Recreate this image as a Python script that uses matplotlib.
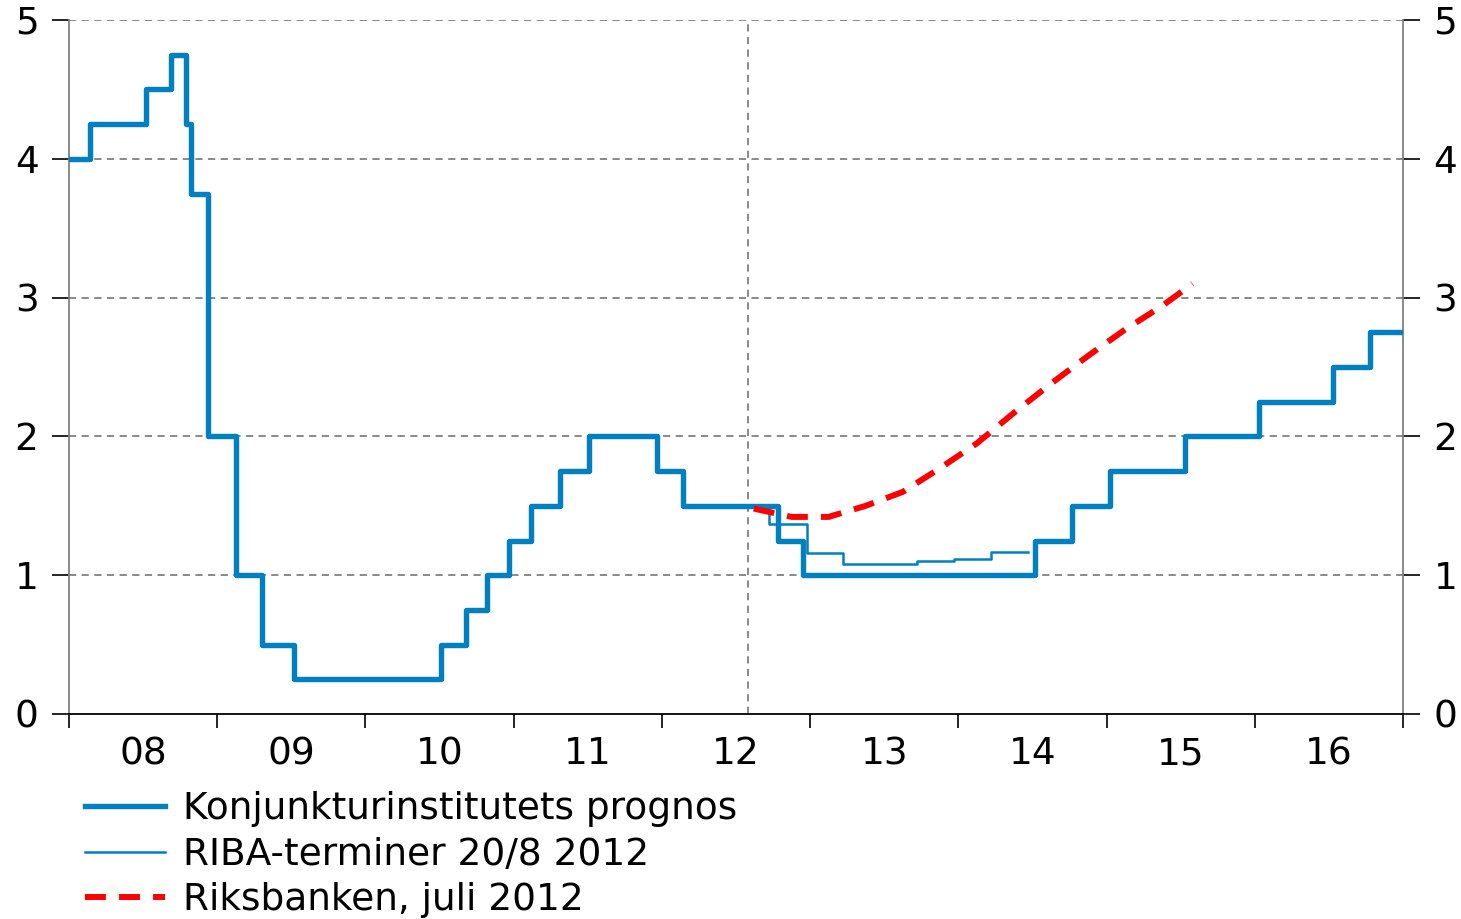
import matplotlib
matplotlib.use("Agg")
import matplotlib.pyplot as plt
import numpy as np

# Konjunkturinstitutets prognos (repo rate steps): change dates in years, levels
kon_x = [2008.0, 2008.14, 2008.52, 2008.69, 2008.79, 2008.82, 2008.94, 2009.13,
         2009.30, 2009.52, 2010.51, 2010.68, 2010.82, 2010.97, 2011.12, 2011.31,
         2011.51, 2011.97, 2012.14, 2012.78, 2012.95, 2014.52, 2014.77, 2015.02,
         2015.53, 2016.03, 2016.53, 2016.78, 2017.0]
kon_y = [4.0, 4.25, 4.5, 4.75, 4.25, 3.75, 2.0, 1.0,
         0.5, 0.25, 0.5, 0.75, 1.0, 1.25, 1.5, 1.75,
         2.0, 1.75, 1.5, 1.25, 1.0, 1.25, 1.5, 1.75,
         2.0, 2.25, 2.5, 2.75, 2.75]

# RIBA-terminer 20/8 2012
riba_x = [2012.58, 2012.72, 2012.98, 2013.22, 2013.72, 2013.97, 2014.22, 2014.47]
riba_y = [1.5, 1.37, 1.16, 1.08, 1.10, 1.12, 1.17, 1.17]

# Riksbanken, juli 2012
riks_x = [2012.62, 2012.875, 2013.125, 2013.375, 2013.625, 2013.875, 2014.125,
          2014.375, 2014.625, 2014.875, 2015.125, 2015.375, 2015.58]
riks_y = [1.48, 1.42, 1.42, 1.50, 1.60, 1.77, 1.95, 2.17, 2.38, 2.58, 2.77, 2.94, 3.10]

years = list(range(2008, 2018))
year_labels = ["08", "09", "10", "11", "12", "13", "14", "15", "16"]

blue = "#0080c0"
red = "#ff0000"
grey = "#808080"

fig = plt.figure(figsize=(14.61, 9.19), dpi=100)
ax = fig.add_axes([69 / 1461, 1 - 714 / 919, (1403 - 69) / 1461, (714 - 20) / 919])

for v in [1, 2, 3, 4, 5]:
    ax.axhline(v, color=grey, lw=1.3, ls=(0, (4, 3)), zorder=1)
ax.axvline(2012.58, color=grey, lw=1.3, ls=(0, (4, 3)), zorder=1)

ax.step(kon_x, kon_y, where="post", color=blue, lw=3.9, zorder=3,
        label="Konjunkturinstitutets prognos")
ax.step(riba_x, riba_y, where="post", color=blue, lw=1.8, zorder=4,
        label="RIBA-terminer 20/8 2012")
ax.plot(riks_x, riks_y, color=red, lw=4.3, ls=(0, (3.5, 2.2)), zorder=5,
        label="Riksbanken, juli 2012")

ax.set_xlim(2008, 2017)
ax.set_ylim(0, 5)

ax.set_xticks(years)
ax.set_xticklabels([])
ax.set_xticks([y + 0.5 for y in years[:-1]], minor=True)
ax.set_xticklabels(year_labels, minor=True)
ax.tick_params(axis="x", which="major", length=10, width=1.2, direction="out")
ax.tick_params(axis="x", which="minor", length=0, pad=16, labelsize=27)

ax.set_yticks([0, 1, 2, 3, 4, 5])
ax.tick_params(axis="y", which="both", left=True, right=True, labelleft=True,
               labelright=True, length=12, width=1.2, direction="out", labelsize=27, pad=10)

ax.spines["top"].set_visible(False)
ax.spines["left"].set_color(grey)
ax.spines["right"].set_color(grey)
ax.spines["left"].set_linewidth(1.3)
ax.spines["right"].set_linewidth(1.3)
ax.spines["bottom"].set_linewidth(1.3)

fig.legend(loc="upper left", bbox_to_anchor=(85 / 1461, 1 - 791 / 919), frameon=False,
           fontsize=27, handlelength=2.13, handletextpad=0.48, labelspacing=0.26,
           borderaxespad=0, borderpad=0)

fig.savefig("out.png", dpi=100)
